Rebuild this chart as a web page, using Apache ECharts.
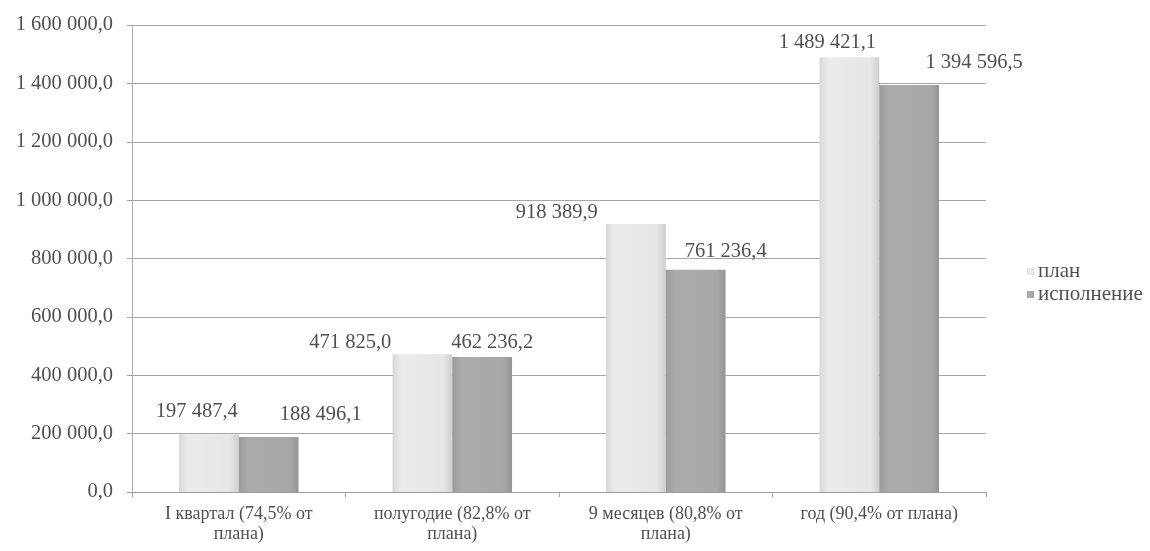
<!DOCTYPE html>
<html><head><meta charset="utf-8">
<script src="https://cdn.jsdelivr.net/npm/echarts@6/dist/echarts.min.js"></script>
<style>html,body{margin:0;padding:0;background:#fff}#c{width:1150px;height:551px}</style>
</head><body><div id="c"></div>
<script>
const categories = ['I квартал (74,5% от\nплана)', 'полугодие (82,8% от\nплана)', '9 месяцев (80,8% от\nплана)', 'год (90,4% от плана)'];
const seriesNames = ['план', 'исполнение'];
const planValues = [197487.4, 471825.0, 918389.9, 1489421.1];
const execValues = [188496.1, 462236.2, 761236.4, 1394596.5];
const yTicks = [0, 200000, 400000, 600000, 800000, 1000000, 1200000, 1400000, 1600000];

function fmt(v) {
  const s = v.toFixed(1);
  const [i, d] = s.split('.');
  return i.replace(/\B(?=(\d{3})+(?!\d))/g, ' ') + ',' + d;
}
const planOffsets = [[-12, -12], [-72, -1], [-79, -1], [-22, -4]];
const execOffsets = [[52, -12], [10, -4], [30, -8], [65, -12]];
const FONT = 'Liberation Serif';
const TXT = '#505050';

function mk(vals, offs) {
  return vals.map((v, i) => ({ value: v, label: { offset: offs[i] } }));
}

const chart = echarts.init(document.getElementById('c'));
chart.setOption({
  animation: false,
  backgroundColor: '#fff',
  grid: { left: 132, right: 164, top: 25, bottom: 59 },
  legend: {
    orient: 'vertical', left: 1022, top: 256, itemGap: 2,
    itemWidth: 7, itemHeight: 7, icon: 'rect',
    textStyle: { fontFamily: FONT, fontSize: 21, color: TXT, padding: [0, 0, 0, -1] },
    data: seriesNames
  },
  xAxis: {
    type: 'category', data: categories,
    axisLine: { lineStyle: { color: '#a0a0a0', width: 1 } },
    axisTick: { show: true, length: 5, lineStyle: { color: '#a0a0a0' } },
    axisLabel: { fontFamily: FONT, fontSize: 18, color: TXT, lineHeight: 20, margin: 12, interval: 0 }
  },
  yAxis: {
    type: 'value', min: yTicks[0], max: yTicks[yTicks.length - 1], interval: 200000,
    axisLine: { show: true, lineStyle: { color: '#b0b0b0' } },
    axisTick: { show: true, length: 5, lineStyle: { color: '#a0a0a0' } },
    splitLine: { lineStyle: { color: '#a8a8a8', width: 1 } },
    axisLabel: { fontFamily: FONT, fontSize: 20.5, color: TXT, margin: 19, formatter: fmt }
  },
  series: [
    {
      name: seriesNames[0], type: 'bar', data: mk(planValues, planOffsets),
      barGap: '0%', barCategoryGap: '44%',
      itemStyle: { color: new echarts.graphic.LinearGradient(0, 0, 1, 0, [
        { offset: 0, color: '#d8d8d8' }, { offset: 0.15, color: '#ebebeb' },
        { offset: 0.85, color: '#e6e6e6' }, { offset: 1, color: '#cfcfcf' }]) },
      label: { show: true, position: 'top', distance: 0, fontFamily: FONT, fontSize: 20.5, color: TXT, formatter: p => fmt(p.value) }
    },
    {
      name: seriesNames[1], type: 'bar', data: mk(execValues, execOffsets),
      barGap: '0%', barCategoryGap: '44%',
      itemStyle: { color: new echarts.graphic.LinearGradient(0, 0, 1, 0, [
        { offset: 0, color: '#9a9a9a' }, { offset: 0.15, color: '#ababab' },
        { offset: 0.85, color: '#a8a8a8' }, { offset: 1, color: '#959595' }]) },
      label: { show: true, position: 'top', distance: 0, fontFamily: FONT, fontSize: 20.5, color: TXT, formatter: p => fmt(p.value) }
    }
  ]
});
</script></body></html>
